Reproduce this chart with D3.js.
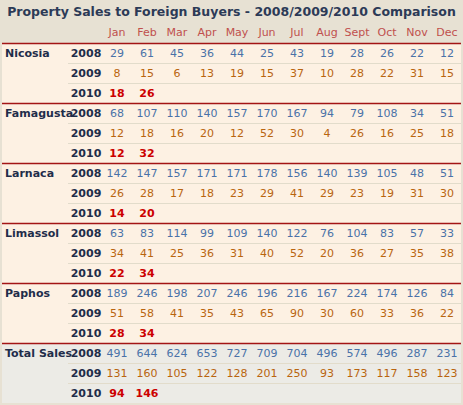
<!DOCTYPE html><html><head><meta charset="utf-8">
<script src="https://cdn.jsdelivr.net/npm/d3@7"></script>
<style>body{margin:0;background:#e7e1d3}</style></head><body>
<script>
const title="Property Sales to Foreign Buyers - 2008/2009/2010 Comparison";
const months=["Jan","Feb","Mar","Apr","May","Jun","Jul","Aug","Sept","Oct","Nov","Dec"];
const regions=["Nicosia","Famagusta","Larnaca","Limassol","Paphos","Total Sales"];
const years=["2008","2009","2010"];
const sales2008=[[29,61,45,36,44,25,43,19,28,26,22,12],[68,107,110,140,157,170,167,94,79,108,34,51],[142,147,157,171,171,178,156,140,139,105,48,51],[63,83,114,99,109,140,122,76,104,83,57,33],[189,246,198,207,246,196,216,167,224,174,126,84],[491,644,624,653,727,709,704,496,574,496,287,231]];
const sales2009=[[8,15,6,13,19,15,37,10,28,22,31,15],[12,18,16,20,12,52,30,4,26,16,25,18],[26,28,17,18,23,29,41,29,23,19,31,30],[34,41,25,36,31,40,52,20,36,27,35,38],[51,58,41,35,43,65,90,30,60,33,36,22],[131,160,105,122,128,201,250,93,173,117,158,123]];
const sales2010=[[18,26],[12,32],[14,20],[22,34],[28,34],[94,146]];

const W=463,H=405,rowH=20,tableTop=43;
const svg=d3.select("body").append("svg").attr("width",W).attr("height",H).style("font-family","DejaVu Sans, Verdana, sans-serif");
const x=d3.scaleBand().domain(months).range([102,462]);
const y=d3.scaleBand().domain(d3.range(18)).range([tableTop,tableTop+18*rowH]);
svg.append("text").attr("x",W/2).attr("y",16).attr("text-anchor","middle").attr("fill","#2c3a57").attr("font-weight","bold").attr("font-size",12.5).text(title);
svg.selectAll(".mh").data(months).join("text").attr("x",d=>x(d)+x.bandwidth()/2).attr("y",36).attr("text-anchor","middle").attr("fill","#c0504d").attr("font-size",11).text(d=>d);
const colors=["#4a72a8","#b9650f","#cc0000"];
const data=[sales2008,sales2009,sales2010];
regions.forEach((r,ri)=>{
  const g=svg.append("g");
  const y0=y(ri*3);
  g.append("rect").attr("x",2).attr("y",y0).attr("width",459).attr("height",3*rowH).attr("fill",ri==5?"#ecebe6":"#fdf1e3");
  g.append("text").attr("x",5).attr("y",y0+14).attr("fill","#1f2d4a").attr("font-weight","bold").attr("font-size",11).text(r);
  years.forEach((yr,yi)=>{
    const yy=y(ri*3+yi);
    if(yi>0) g.append("line").attr("x1",68).attr("x2",461).attr("y1",yy+0.5).attr("y2",yy+0.5).attr("stroke","#e2dccb");
    g.append("text").attr("x",86).attr("y",yy+14).attr("text-anchor","middle").attr("fill","#1f2d4a").attr("font-weight","bold").attr("font-size",11).text(yr);
    g.selectAll(".v").data(data[yi][ri]).join("text").attr("x",(d,i)=>x(months[i])+x.bandwidth()/2).attr("y",yy+14).attr("text-anchor","middle").attr("fill",colors[yi]).attr("font-weight",yi==2?"bold":"normal").attr("font-size",11).text(d=>d);
  });
  g.append("line").attr("x1",2).attr("x2",461).attr("y1",y0+0.5).attr("y2",y0+0.5).attr("stroke","#a31515").attr("stroke-width",1.3);
});
</script></body></html>
